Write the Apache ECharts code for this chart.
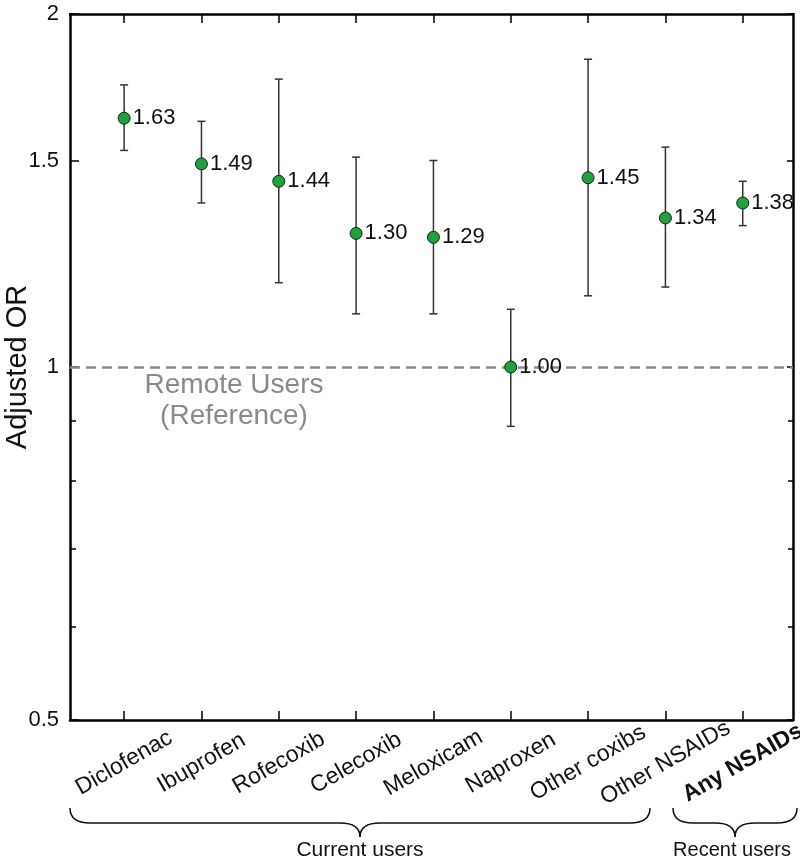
<!DOCTYPE html>
<html>
<head>
<meta charset="utf-8">
<script src="https://cdn.jsdelivr.net/npm/echarts@6/dist/echarts.min.js"></script>
<style>
html,body{margin:0;padding:0;background:#fff;}
#main{width:800px;height:866px;}
</style>
</head>
<body>
<div id="main"></div>
<script>
const categories = ['Diclofenac','Ibuprofen','Rofecoxib','Celecoxib','Meloxicam','Naproxen','Other coxibs','Other NSAIDs','Any NSAIDs'];
const orValues = [1.63, 1.49, 1.44, 1.30, 1.29, 1.00, 1.45, 1.34, 1.38];
const ciLower  = [1.53, 1.38, 1.18, 1.11, 1.11, 0.89, 1.15, 1.17, 1.32];
const ciUpper  = [1.74, 1.62, 1.76, 1.51, 1.50, 1.12, 1.83, 1.54, 1.44];
const yMajorTicks = [0.5, 1, 1.5, 2];
const yMinorTicks = [0.6, 0.7, 0.8, 0.9];
const referenceValue = 1;

const FONT = '"Liberation Sans", Arial, Helvetica, sans-serif';
const catIdx = categories.map((c, i) => i);

const chart = echarts.init(document.getElementById('main'), null, {renderer: 'canvas'});

const gridRect = {left: 70, right: 7, top: 14, bottom: 146, containLabel: false, outerBoundsMode: 'none'};

function brace(x1, x2, yTop, yLine, yTip, r) {
  const xm = (x1 + x2) / 2;
  const st = {stroke: '#111', lineWidth: 1.5, fill: null};
  return {
    type: 'group',
    children: [
      {type: 'bezierCurve', shape: {x1: x1, y1: yTop, cpx1: x1, cpy1: yLine, x2: x1 + r, y2: yLine}, style: st},
      {type: 'line', shape: {x1: x1 + r, y1: yLine, x2: xm - r, y2: yLine}, style: st},
      {type: 'bezierCurve', shape: {x1: xm - r, y1: yLine, cpx1: xm, cpy1: yLine, x2: xm, y2: yTip}, style: st},
      {type: 'bezierCurve', shape: {x1: xm, y1: yTip, cpx1: xm, cpy1: yLine, x2: xm + r, y2: yLine}, style: st},
      {type: 'line', shape: {x1: xm + r, y1: yLine, x2: x2 - r, y2: yLine}, style: st},
      {type: 'bezierCurve', shape: {x1: x2 - r, y1: yLine, cpx1: x2, cpy1: yLine, x2: x2, y2: yTop}, style: st}
    ]
  };
}

const option = {
  backgroundColor: '#fff',
  animation: false,
  textStyle: {fontFamily: FONT},
  grid: [
    Object.assign({}, gridRect),
    Object.assign({}, gridRect)
  ],
  xAxis: [
    {
      gridIndex: 0, type: 'value', position: 'bottom', min: -0.7, max: 8.65,
      axisLine: {show: true, onZero: false, lineStyle: {color: '#000', width: 2.5}},
      axisTick: {show: true, inside: true, length: 9, customValues: catIdx, lineStyle: {color: '#000', width: 1.5}},
      axisLabel: {
        show: true, customValues: catIdx, rotate: 30, align: 'center', verticalAlign: 'middle', margin: 43,
        fontSize: 23, color: '#111', fontFamily: FONT,
        formatter: v => (v === 8 ? '{b|' + categories[v] + '}' : categories[v]),
        rich: {b: {fontWeight: 'bold', fontSize: 23, color: '#111', fontFamily: FONT}}
      },
      splitLine: {show: false}
    },
    {
      gridIndex: 0, type: 'value', position: 'top', min: -0.7, max: 8.65,
      axisLine: {show: true, onZero: false, lineStyle: {color: '#000', width: 2.5}},
      axisTick: {show: true, inside: true, length: 9, customValues: catIdx, lineStyle: {color: '#000', width: 1.5}},
      axisLabel: {show: false},
      splitLine: {show: false}
    },
    {
      gridIndex: 1, type: 'value', min: -0.7, max: 8.65, show: false,
      axisLine: {onZero: false}
    }
  ],
  yAxis: [
    {
      gridIndex: 0, type: 'log', logBase: 10, position: 'left', min: 0.5, max: 2,
      axisLine: {show: true, onZero: false, lineStyle: {color: '#000', width: 2.5}},
      axisTick: {show: true, inside: true, length: 9, customValues: yMajorTicks, lineStyle: {color: '#000', width: 1.5}},
      axisLabel: {show: true, customValues: yMajorTicks, fontSize: 22, color: '#111', margin: 11, fontFamily: FONT,
        formatter: v => '{t|' + String(+(+v).toFixed(2)) + '}',
        rich: {t: {fontSize: 22, color: '#111', fontFamily: FONT}}},
      splitLine: {show: false},
      name: 'Adjusted OR', nameLocation: 'middle', nameGap: 38, nameMoveOverlap: false,
      nameTextStyle: {fontSize: 29, color: '#111', fontFamily: FONT}
    },
    {
      gridIndex: 0, type: 'log', logBase: 10, position: 'right', min: 0.5, max: 2,
      axisLine: {show: true, onZero: false, lineStyle: {color: '#000', width: 2.5}},
      axisTick: {show: true, inside: true, length: 6, customValues: yMajorTicks, lineStyle: {color: '#000', width: 1.5}},
      axisLabel: {show: false},
      splitLine: {show: false}
    },
    {
      gridIndex: 1, type: 'log', logBase: 10, position: 'left', min: 0.5, max: 2,
      axisLine: {show: false, onZero: false},
      axisTick: {show: true, inside: true, length: 6, customValues: yMinorTicks, lineStyle: {color: '#000', width: 1.5}},
      axisLabel: {show: false},
      splitLine: {show: false}
    },
    {
      gridIndex: 1, type: 'log', logBase: 10, position: 'right', min: 0.5, max: 2,
      axisLine: {show: false, onZero: false},
      axisTick: {show: true, inside: true, length: 5, customValues: yMinorTicks, lineStyle: {color: '#000', width: 1.5}},
      axisLabel: {show: false},
      splitLine: {show: false}
    }
  ],
  series: [
    {
      type: 'custom',
      name: 'CI',
      xAxisIndex: 0, yAxisIndex: 0,
      data: catIdx.map(i => [i, ciLower[i], ciUpper[i]]),
      z: 2,
      renderItem: function (params, api) {
        const x = api.value(0);
        const lo = api.coord([x, api.value(1)]);
        const hi = api.coord([x, api.value(2)]);
        const cap = 4;
        const style = {stroke: '#333', lineWidth: 1.5};
        return {
          type: 'group',
          children: [
            {type: 'line', shape: {x1: lo[0], y1: lo[1], x2: hi[0], y2: hi[1]}, style: style},
            {type: 'line', shape: {x1: lo[0] - cap, y1: lo[1], x2: lo[0] + cap, y2: lo[1]}, style: style},
            {type: 'line', shape: {x1: hi[0] - cap, y1: hi[1], x2: hi[0] + cap, y2: hi[1]}, style: style}
          ]
        };
      },
      markLine: {
        silent: true,
        symbol: ['none', 'none'],
        label: {show: false},
        lineStyle: {color: '#8a8a8a', type: [10, 6], width: 2.5},
        data: [{yAxis: referenceValue}],
        z: 1
      }
    },
    {
      type: 'scatter',
      name: 'OR',
      xAxisIndex: 0, yAxisIndex: 0,
      data: catIdx.map(i => [i, orValues[i]]),
      symbol: 'circle',
      symbolSize: 12,
      z: 5,
      itemStyle: {color: '#22a03c', borderColor: '#0d2a12', borderWidth: 1, opacity: 1},
      label: {
        show: true, position: 'right', distance: 2,
        fontSize: 22, color: '#111', fontFamily: FONT,
        formatter: p => p.value[1].toFixed(2)
      }
    }
  ],
  graphic: [
    {
      type: 'text', x: 234, y: 370,
      style: {text: 'Remote Users\n(Reference)', textAlign: 'center', textVerticalAlign: 'top',
        fontSize: 28, lineHeight: 31, fill: '#8a8a8a', fontFamily: FONT}
    },
    brace(70, 650, 808, 823, 837, 20),
    brace(673, 797, 808, 823, 837, 20),
    {
      type: 'text', x: 360, y: 850,
      style: {text: 'Current users', textAlign: 'center', textVerticalAlign: 'middle', fontSize: 21, fill: '#111', fontFamily: FONT}
    },
    {
      type: 'text', x: 732, y: 850,
      style: {text: 'Recent users', textAlign: 'center', textVerticalAlign: 'middle', fontSize: 20, fill: '#111', fontFamily: FONT}
    }
  ]
};

chart.setOption(option);
</script>
</body>
</html>
